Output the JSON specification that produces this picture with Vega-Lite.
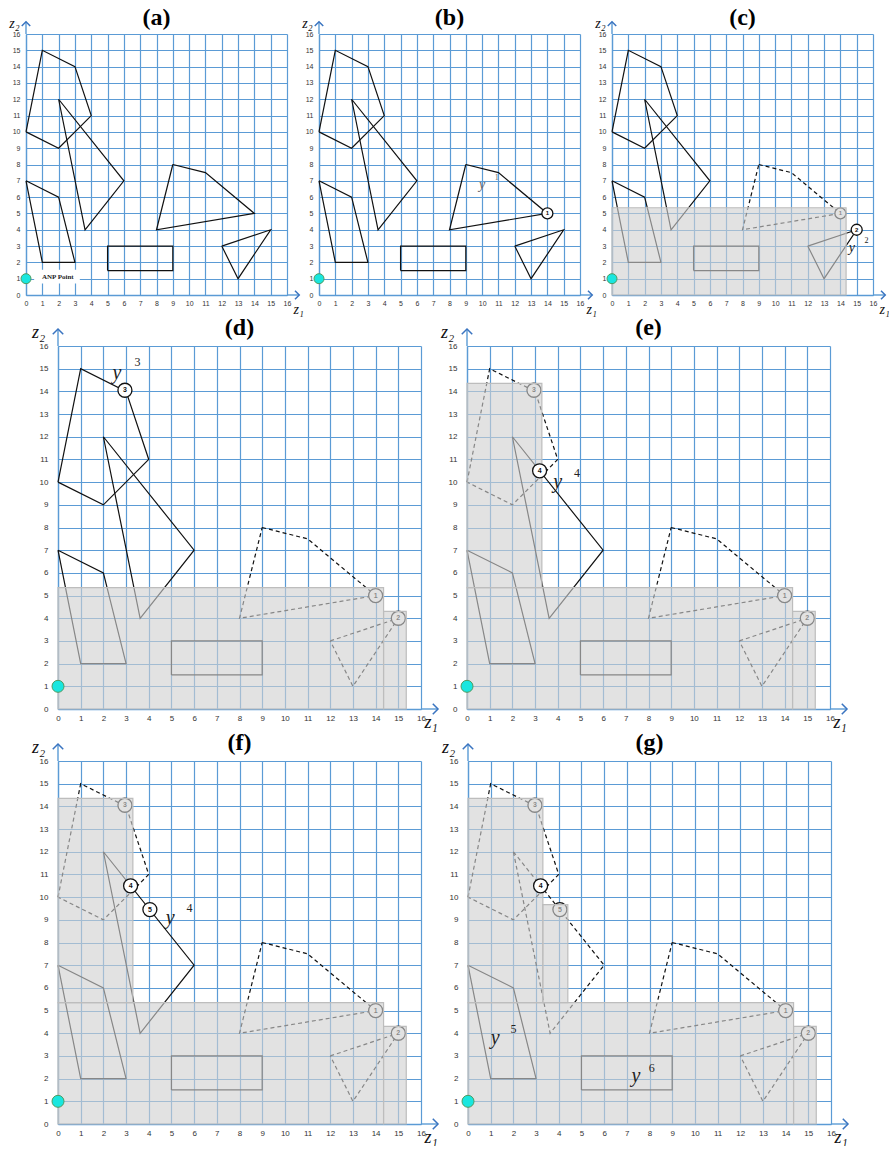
{
"$schema":"https://vega.github.io/schema/vega-lite/v6.json",
"autosize":{"type":"pad"},
"padding":{"left":8,"top":6,"right":0,"bottom":0},
"background":"white",
"spacing":0,
"config":{
 "view":{"stroke":null},
 "axis":{"grid":true,"gridColor":"#5b9bd5","gridWidth":1.2,"gridOpacity":1,"domainColor":"#5b9bd5","domainWidth":1.3,"ticks":false,"labelColor":"#333","labelFont":"Liberation Sans","labelFlush":false,"labelOverlap":false,"labelBound":false,"titleFont":"Liberation Serif","titleFontStyle":"italic","titleFontWeight":"normal","titleColor":"#111"},
 "title":{"font":"Liberation Serif","fontWeight":"bold","fontSize":24,"color":"#000"}
},
"datasets":{
 "polys":[
  {"poly":"P","i":0,"z1":0,"z2":10},{"poly":"P","i":1,"z1":1,"z2":15},{"poly":"P","i":2,"z1":3,"z2":14},{"poly":"P","i":3,"z1":4,"z2":11},{"poly":"P","i":4,"z1":2,"z2":9},{"poly":"P","i":5,"z1":0,"z2":10},
  {"poly":"T","i":0,"z1":2,"z2":12},{"poly":"T","i":1,"z1":6,"z2":7},{"poly":"T","i":2,"z1":3.62,"z2":4},{"poly":"T","i":3,"z1":2,"z2":12},
  {"poly":"Q","i":0,"z1":0,"z2":7},{"poly":"Q","i":1,"z1":2,"z2":6},{"poly":"Q","i":2,"z1":3,"z2":2},{"poly":"Q","i":3,"z1":1,"z2":2},{"poly":"Q","i":4,"z1":0,"z2":7},
  {"poly":"R","i":0,"z1":5,"z2":1.5},{"poly":"R","i":1,"z1":9,"z2":1.5},{"poly":"R","i":2,"z1":9,"z2":3},{"poly":"R","i":3,"z1":5,"z2":3},{"poly":"R","i":4,"z1":5,"z2":1.5},
  {"poly":"K","i":0,"z1":9,"z2":8},{"poly":"K","i":1,"z1":11,"z2":7.5},{"poly":"K","i":2,"z1":14,"z2":5},{"poly":"K","i":3,"z1":8,"z2":4},{"poly":"K","i":4,"z1":9,"z2":8},
  {"poly":"S","i":0,"z1":12,"z2":3},{"poly":"S","i":1,"z1":15,"z2":4},{"poly":"S","i":2,"z1":13,"z2":1},{"poly":"S","i":3,"z1":12,"z2":3}
 ],
 "pts":[{"id":"1","z1":14,"z2":5},{"id":"2","z1":15,"z2":4},{"id":"3","z1":2.95,"z2":14.05},{"id":"4","z1":3.2,"z2":10.5},{"id":"5","z1":4.05,"z2":9.45}],
 "shade":[
  {"piece":"A","z1":0,"z1b":14.35,"z2":0,"z2b":5.35},
  {"piece":"B","z1":14.35,"z1b":15.35,"z2":0,"z2b":4.3},
  {"piece":"C","z1":0,"z1b":3.3,"z2":5.35,"z2b":14.35},
  {"piece":"D","z1":3.3,"z1b":4.4,"z2":5.35,"z2b":9.67}
 ],
 "anp":[{"z1":0,"z2":1}],
 "labels":[
  {"panel":"b","kind":"v","txt":"y","z1":10.0,"z2":6.75},
  {"panel":"b","kind":"n","txt":"1","z1":10.9,"z2":7.2},
  {"panel":"c","kind":"v","txt":"y","z1":14.7,"z2":2.9},
  {"panel":"c","kind":"n","txt":"2","z1":15.6,"z2":3.3},
  {"panel":"d","kind":"v","txt":"y","z1":2.6,"z2":14.8},
  {"panel":"d","kind":"n","txt":"3","z1":3.5,"z2":15.3},
  {"panel":"e","kind":"v","txt":"y","z1":4.0,"z2":10.0},
  {"panel":"e","kind":"n","txt":"4","z1":4.85,"z2":10.4},
  {"panel":"f","kind":"v","txt":"y","z1":4.95,"z2":9.1},
  {"panel":"f","kind":"n","txt":"4","z1":5.8,"z2":9.5},
  {"panel":"g","kind":"v","txt":"y","z1":1.2,"z2":3.8},
  {"panel":"g","kind":"n","txt":"5","z1":2.0,"z2":4.2},
  {"panel":"g","kind":"v","txt":"y","z1":7.4,"z2":2.1},
  {"panel":"g","kind":"n","txt":"6","z1":8.1,"z2":2.45}
 ]
},
"vconcat":[
 {"hconcat":[
  {"width":261,"height":261,"title":{"text":"(a)","offset":-14},
   "encoding":{
    "x":{"field":"z1","type":"quantitative","scale":{"domain":[0,16]},"axis":{"values":[0,1,2,3,4,5,6,7,8,9,10,11,12,13,14,15,16],"labelFontSize":7,"labelPadding":4,"title":"z₁","titleFontSize":14,"titleX":267,"titleY":14,"titleAlign":"left","titleBaseline":"middle"}},
    "y":{"field":"z2","type":"quantitative","scale":{"domain":[0,16]},"axis":{"values":[0,1,2,3,4,5,6,7,8,9,10,11,12,13,14,15,16],"labelFontSize":7,"labelPadding":6,"title":"z₂","titleFontSize":14,"titleAngle":0,"titleX":-12,"titleY":-11,"titleAlign":"center","titleBaseline":"middle"}}},
   "layer":[
    {"data":{"name":"polys"},"mark":{"type":"line","color":"#111","strokeWidth":1.2},"encoding":{"detail":{"field":"poly"},"order":{"field":"i","type":"quantitative"}}},
    {"data":{"name":"anp"},"mark":{"type":"rect","fill":"white"},"encoding":{"x":{"datum":0.5},"x2":{"datum":3.3},"y":{"datum":0.7},"y2":{"datum":1.55}}},
    {"data":{"name":"anp"},"mark":{"type":"text","text":"ANP Point","font":"Liberation Serif","fontWeight":"bold","fontSize":7,"color":"#222"},"encoding":{"x":{"datum":1.95},"y":{"datum":1.1}}},
    {"data":{"name":"anp"},"mark":{"type":"circle","fill":"#19e6df","stroke":"#4f9a5f","strokeWidth":1,"size":100,"opacity":1}},
    {"data":{"name":"anp"},"mark":{"type":"rule","color":"#5b9bd5","strokeWidth":1.4},"encoding":{"x":{"datum":16},"x2":{"datum":16.75},"y":{"datum":0}}},
    {"data":{"name":"anp"},"mark":{"type":"rule","color":"#5b9bd5","strokeWidth":1.4},"encoding":{"x":{"datum":0},"y":{"datum":16},"y2":{"datum":16.75}}},
    {"data":{"name":"anp"},"mark":{"type":"point","shape":"M-1,-1L0,0L-1,1","filled":false,"color":"#3a74c0","strokeWidth":1.5,"size":72,"opacity":1},"encoding":{"x":{"datum":16.75},"y":{"datum":0}}},
    {"data":{"name":"anp"},"mark":{"type":"point","shape":"M-1,1L0,0L1,1","filled":false,"color":"#3a74c0","strokeWidth":1.5,"size":72,"opacity":1},"encoding":{"x":{"datum":0},"y":{"datum":16.75}}}
   ]},
  {"width":261,"height":261,"title":{"text":"(b)","offset":-14},
   "encoding":{
    "x":{"field":"z1","type":"quantitative","scale":{"domain":[0,16]},"axis":{"values":[0,1,2,3,4,5,6,7,8,9,10,11,12,13,14,15,16],"labelFontSize":7,"labelPadding":4,"title":"z₁","titleFontSize":14,"titleX":267,"titleY":14,"titleAlign":"left","titleBaseline":"middle"}},
    "y":{"field":"z2","type":"quantitative","scale":{"domain":[0,16]},"axis":{"values":[0,1,2,3,4,5,6,7,8,9,10,11,12,13,14,15,16],"labelFontSize":7,"labelPadding":6,"title":"z₂","titleFontSize":14,"titleAngle":0,"titleX":-12,"titleY":-11,"titleAlign":"center","titleBaseline":"middle"}}},
   "layer":[
    {"data":{"name":"polys"},"mark":{"type":"line","color":"#111","strokeWidth":1.2},"encoding":{"detail":{"field":"poly"},"order":{"field":"i","type":"quantitative"}}},
    {"data":{"name":"pts"},"transform":[{"filter":{"field":"id","oneOf":["1"]}}],"mark":{"type":"circle","fill":"white","stroke":"#111","strokeWidth":1.3,"size":121,"opacity":1}},
    {"data":{"name":"pts"},"transform":[{"filter":{"field":"id","oneOf":["1"]}}],"mark":{"type":"text","font":"Liberation Sans","fontWeight":"bold","fontSize":6,"color":"#111"},"encoding":{"text":{"field":"id"}}},
    {"data":{"name":"anp"},"mark":{"type":"circle","fill":"#19e6df","stroke":"#4f9a5f","strokeWidth":1,"size":100,"opacity":1}},
    {"data":{"name":"labels"},"transform":[{"filter":"datum.panel==='b' && datum.kind==='v'"}],"mark":{"type":"text","font":"Liberation Serif","fontStyle":"italic","fontSize":14,"color":"#666"},"encoding":{"text":{"field":"txt"}}},
    {"data":{"name":"labels"},"transform":[{"filter":"datum.panel==='b' && datum.kind==='n'"}],"mark":{"type":"text","font":"Liberation Serif","fontSize":8,"color":"#666"},"encoding":{"text":{"field":"txt"}}},
    {"data":{"name":"anp"},"mark":{"type":"rule","color":"#5b9bd5","strokeWidth":1.4},"encoding":{"x":{"datum":16},"x2":{"datum":16.75},"y":{"datum":0}}},
    {"data":{"name":"anp"},"mark":{"type":"rule","color":"#5b9bd5","strokeWidth":1.4},"encoding":{"x":{"datum":0},"y":{"datum":16},"y2":{"datum":16.75}}},
    {"data":{"name":"anp"},"mark":{"type":"point","shape":"M-1,-1L0,0L-1,1","filled":false,"color":"#3a74c0","strokeWidth":1.5,"size":72,"opacity":1},"encoding":{"x":{"datum":16.75},"y":{"datum":0}}},
    {"data":{"name":"anp"},"mark":{"type":"point","shape":"M-1,1L0,0L1,1","filled":false,"color":"#3a74c0","strokeWidth":1.5,"size":72,"opacity":1},"encoding":{"x":{"datum":0},"y":{"datum":16.75}}}
   ]},
  {"width":261,"height":261,"title":{"text":"(c)","offset":-14},
   "encoding":{
    "x":{"field":"z1","type":"quantitative","scale":{"domain":[0,16]},"axis":{"values":[0,1,2,3,4,5,6,7,8,9,10,11,12,13,14,15,16],"labelFontSize":7,"labelPadding":4,"title":"z₁","titleFontSize":14,"titleX":267,"titleY":14,"titleAlign":"left","titleBaseline":"middle"}},
    "y":{"field":"z2","type":"quantitative","scale":{"domain":[0,16]},"axis":{"values":[0,1,2,3,4,5,6,7,8,9,10,11,12,13,14,15,16],"labelFontSize":7,"labelPadding":6,"title":"z₂","titleFontSize":14,"titleAngle":0,"titleX":-12,"titleY":-11,"titleAlign":"center","titleBaseline":"middle"}}},
   "layer":[
    {"data":{"name":"polys"},"transform":[{"filter":{"field":"poly","oneOf":["P","T","Q","R","S"]}}],"mark":{"type":"line","color":"#111","strokeWidth":1.2},"encoding":{"detail":{"field":"poly"},"order":{"field":"i","type":"quantitative"}}},
    {"data":{"name":"polys"},"transform":[{"filter":{"field":"poly","oneOf":["K"]}}],"mark":{"type":"line","color":"#111","strokeWidth":1.2,"strokeDash":[4,3]},"encoding":{"detail":{"field":"poly"},"order":{"field":"i","type":"quantitative"}}},
    {"data":{"name":"pts"},"transform":[{"filter":{"field":"id","oneOf":["1"]}}],"mark":{"type":"circle","fill":"white","stroke":"#111","strokeWidth":1.3,"size":121,"opacity":1}},
    {"data":{"name":"pts"},"transform":[{"filter":{"field":"id","oneOf":["1"]}}],"mark":{"type":"text","font":"Liberation Sans","fontWeight":"bold","fontSize":6,"color":"#111"},"encoding":{"text":{"field":"id"}}},
    {"data":{"name":"shade"},"transform":[{"filter":{"field":"piece","oneOf":["A"]}}],"mark":{"type":"rect","fill":"#d0d0d0","fillOpacity":0.62,"stroke":"#bdbdbd","strokeWidth":1.2},"encoding":{"x2":{"field":"z1b"},"y2":{"field":"z2b"}}},
    {"data":{"name":"pts"},"transform":[{"filter":{"field":"id","oneOf":["2"]}}],"mark":{"type":"circle","fill":"white","stroke":"#111","strokeWidth":1.3,"size":121,"opacity":1}},
    {"data":{"name":"pts"},"transform":[{"filter":{"field":"id","oneOf":["2"]}}],"mark":{"type":"text","font":"Liberation Sans","fontWeight":"bold","fontSize":6,"color":"#111"},"encoding":{"text":{"field":"id"}}},
    {"data":{"name":"anp"},"mark":{"type":"circle","fill":"#19e6df","stroke":"#4f9a5f","strokeWidth":1,"size":100,"opacity":1}},
    {"data":{"name":"labels"},"transform":[{"filter":"datum.panel==='c' && datum.kind==='v'"}],"mark":{"type":"text","font":"Liberation Serif","fontStyle":"italic","fontSize":14,"color":"#222"},"encoding":{"text":{"field":"txt"}}},
    {"data":{"name":"labels"},"transform":[{"filter":"datum.panel==='c' && datum.kind==='n'"}],"mark":{"type":"text","font":"Liberation Serif","fontSize":8,"color":"#222"},"encoding":{"text":{"field":"txt"}}},
    {"data":{"name":"anp"},"mark":{"type":"rule","color":"#5b9bd5","strokeWidth":1.4},"encoding":{"x":{"datum":16},"x2":{"datum":16.75},"y":{"datum":0}}},
    {"data":{"name":"anp"},"mark":{"type":"rule","color":"#5b9bd5","strokeWidth":1.4},"encoding":{"x":{"datum":0},"y":{"datum":16},"y2":{"datum":16.75}}},
    {"data":{"name":"anp"},"mark":{"type":"point","shape":"M-1,-1L0,0L-1,1","filled":false,"color":"#3a74c0","strokeWidth":1.5,"size":72,"opacity":1},"encoding":{"x":{"datum":16.75},"y":{"datum":0}}},
    {"data":{"name":"anp"},"mark":{"type":"point","shape":"M-1,1L0,0L1,1","filled":false,"color":"#3a74c0","strokeWidth":1.5,"size":72,"opacity":1},"encoding":{"x":{"datum":0},"y":{"datum":16.75}}}
   ]}
 ],"spacing":32,"bounds":"flush"},
 {"hconcat":[
  {"width":32,"height":363,"data":{"values":[]},"mark":{"type":"text","text":""}},
  {"hconcat":[
   {"width":363,"height":363,"title":{"text":"(d)","offset":-17},
    "encoding":{
     "x":{"field":"z1","type":"quantitative","scale":{"domain":[0,16]},"axis":{"values":[0,1,2,3,4,5,6,7,8,9,10,11,12,13,14,15,16],"labelFontSize":8,"labelPadding":5,"title":"z₁","titleFontSize":18,"titleX":366,"titleY":13,"titleAlign":"left","titleBaseline":"middle"}},
     "y":{"field":"z2","type":"quantitative","scale":{"domain":[0,16]},"axis":{"values":[0,1,2,3,4,5,6,7,8,9,10,11,12,13,14,15,16],"labelFontSize":8,"labelPadding":10,"title":"z₂","titleFontSize":18,"titleAngle":0,"titleX":-20,"titleY":-14,"titleAlign":"center","titleBaseline":"middle"}}},
    "layer":[
     {"data":{"name":"polys"},"transform":[{"filter":{"field":"poly","oneOf":["P","T","Q","R"]}}],"mark":{"type":"line","color":"#111","strokeWidth":1.2},"encoding":{"detail":{"field":"poly"},"order":{"field":"i","type":"quantitative"}}},
     {"data":{"name":"polys"},"transform":[{"filter":{"field":"poly","oneOf":["K","S"]}}],"mark":{"type":"line","color":"#111","strokeWidth":1.2,"strokeDash":[4,3]},"encoding":{"detail":{"field":"poly"},"order":{"field":"i","type":"quantitative"}}},
     {"data":{"name":"pts"},"transform":[{"filter":{"field":"id","oneOf":["1","2"]}}],"mark":{"type":"circle","fill":"white","stroke":"#111","strokeWidth":1.3,"size":196,"opacity":1}},
     {"data":{"name":"pts"},"transform":[{"filter":{"field":"id","oneOf":["1","2"]}}],"mark":{"type":"text","font":"Liberation Sans","fontWeight":"bold","fontSize":7,"color":"#111"},"encoding":{"text":{"field":"id"}}},
     {"data":{"name":"shade"},"transform":[{"filter":{"field":"piece","oneOf":["A","B"]}}],"mark":{"type":"rect","fill":"#d0d0d0","fillOpacity":0.62,"stroke":"#bdbdbd","strokeWidth":1.2},"encoding":{"x2":{"field":"z1b"},"y2":{"field":"z2b"}}},
     {"data":{"name":"pts"},"transform":[{"filter":{"field":"id","oneOf":["3"]}}],"mark":{"type":"circle","fill":"white","stroke":"#111","strokeWidth":1.3,"size":196,"opacity":1}},
     {"data":{"name":"pts"},"transform":[{"filter":{"field":"id","oneOf":["3"]}}],"mark":{"type":"text","font":"Liberation Sans","fontWeight":"bold","fontSize":7,"color":"#111"},"encoding":{"text":{"field":"id"}}},
     {"data":{"name":"anp"},"mark":{"type":"circle","fill":"#19e6df","stroke":"#4f9a5f","strokeWidth":1,"size":144,"opacity":1}},
     {"data":{"name":"labels"},"transform":[{"filter":"datum.panel==='d' && datum.kind==='v'"}],"mark":{"type":"text","font":"Liberation Serif","fontStyle":"italic","fontSize":20,"color":"#222"},"encoding":{"text":{"field":"txt"}}},
     {"data":{"name":"labels"},"transform":[{"filter":"datum.panel==='d' && datum.kind==='n'"}],"mark":{"type":"text","font":"Liberation Serif","fontSize":12,"color":"#222"},"encoding":{"text":{"field":"txt"}}},
     {"data":{"name":"anp"},"mark":{"type":"rule","color":"#5b9bd5","strokeWidth":1.4},"encoding":{"x":{"datum":16},"x2":{"datum":16.75},"y":{"datum":0}}},
     {"data":{"name":"anp"},"mark":{"type":"rule","color":"#5b9bd5","strokeWidth":1.4},"encoding":{"x":{"datum":0},"y":{"datum":16},"y2":{"datum":16.75}}},
     {"data":{"name":"anp"},"mark":{"type":"point","shape":"M-1,-1L0,0L-1,1","filled":false,"color":"#3a74c0","strokeWidth":1.5,"size":110,"opacity":1},"encoding":{"x":{"datum":16.75},"y":{"datum":0}}},
     {"data":{"name":"anp"},"mark":{"type":"point","shape":"M-1,1L0,0L1,1","filled":false,"color":"#3a74c0","strokeWidth":1.5,"size":110,"opacity":1},"encoding":{"x":{"datum":0},"y":{"datum":16.75}}}
    ]},
   {"width":363,"height":363,"title":{"text":"(e)","offset":-17},
    "encoding":{
     "x":{"field":"z1","type":"quantitative","scale":{"domain":[0,16]},"axis":{"values":[0,1,2,3,4,5,6,7,8,9,10,11,12,13,14,15,16],"labelFontSize":8,"labelPadding":5,"title":"z₁","titleFontSize":18,"titleX":366,"titleY":13,"titleAlign":"left","titleBaseline":"middle"}},
     "y":{"field":"z2","type":"quantitative","scale":{"domain":[0,16]},"axis":{"values":[0,1,2,3,4,5,6,7,8,9,10,11,12,13,14,15,16],"labelFontSize":8,"labelPadding":10,"title":"z₂","titleFontSize":18,"titleAngle":0,"titleX":-20,"titleY":-14,"titleAlign":"center","titleBaseline":"middle"}}},
    "layer":[
     {"data":{"name":"polys"},"transform":[{"filter":{"field":"poly","oneOf":["T","Q","R"]}}],"mark":{"type":"line","color":"#111","strokeWidth":1.2},"encoding":{"detail":{"field":"poly"},"order":{"field":"i","type":"quantitative"}}},
     {"data":{"name":"polys"},"transform":[{"filter":{"field":"poly","oneOf":["P","K","S"]}}],"mark":{"type":"line","color":"#111","strokeWidth":1.2,"strokeDash":[4,3]},"encoding":{"detail":{"field":"poly"},"order":{"field":"i","type":"quantitative"}}},
     {"data":{"name":"pts"},"transform":[{"filter":{"field":"id","oneOf":["1","2","3"]}}],"mark":{"type":"circle","fill":"white","stroke":"#111","strokeWidth":1.3,"size":196,"opacity":1}},
     {"data":{"name":"pts"},"transform":[{"filter":{"field":"id","oneOf":["1","2","3"]}}],"mark":{"type":"text","font":"Liberation Sans","fontWeight":"bold","fontSize":7,"color":"#111"},"encoding":{"text":{"field":"id"}}},
     {"data":{"name":"shade"},"transform":[{"filter":{"field":"piece","oneOf":["A","B","C"]}}],"mark":{"type":"rect","fill":"#d0d0d0","fillOpacity":0.62,"stroke":"#bdbdbd","strokeWidth":1.2},"encoding":{"x2":{"field":"z1b"},"y2":{"field":"z2b"}}},
     {"data":{"name":"pts"},"transform":[{"filter":{"field":"id","oneOf":["4"]}}],"mark":{"type":"circle","fill":"white","stroke":"#111","strokeWidth":1.3,"size":196,"opacity":1}},
     {"data":{"name":"pts"},"transform":[{"filter":{"field":"id","oneOf":["4"]}}],"mark":{"type":"text","font":"Liberation Sans","fontWeight":"bold","fontSize":7,"color":"#111"},"encoding":{"text":{"field":"id"}}},
     {"data":{"name":"anp"},"mark":{"type":"circle","fill":"#19e6df","stroke":"#4f9a5f","strokeWidth":1,"size":144,"opacity":1}},
     {"data":{"name":"labels"},"transform":[{"filter":"datum.panel==='e' && datum.kind==='v'"}],"mark":{"type":"text","font":"Liberation Serif","fontStyle":"italic","fontSize":20,"color":"#222"},"encoding":{"text":{"field":"txt"}}},
     {"data":{"name":"labels"},"transform":[{"filter":"datum.panel==='e' && datum.kind==='n'"}],"mark":{"type":"text","font":"Liberation Serif","fontSize":12,"color":"#222"},"encoding":{"text":{"field":"txt"}}},
     {"data":{"name":"anp"},"mark":{"type":"rule","color":"#5b9bd5","strokeWidth":1.4},"encoding":{"x":{"datum":16},"x2":{"datum":16.75},"y":{"datum":0}}},
     {"data":{"name":"anp"},"mark":{"type":"rule","color":"#5b9bd5","strokeWidth":1.4},"encoding":{"x":{"datum":0},"y":{"datum":16},"y2":{"datum":16.75}}},
     {"data":{"name":"anp"},"mark":{"type":"point","shape":"M-1,-1L0,0L-1,1","filled":false,"color":"#3a74c0","strokeWidth":1.5,"size":110,"opacity":1},"encoding":{"x":{"datum":16.75},"y":{"datum":0}}},
     {"data":{"name":"anp"},"mark":{"type":"point","shape":"M-1,1L0,0L1,1","filled":false,"color":"#3a74c0","strokeWidth":1.5,"size":110,"opacity":1},"encoding":{"x":{"datum":0},"y":{"datum":16.75}}}
    ]}
  ],"spacing":46,"bounds":"flush"}
 ],"spacing":0,"bounds":"flush"},
 {"hconcat":[
  {"width":32,"height":363,"data":{"values":[]},"mark":{"type":"text","text":""}},
  {"hconcat":[
   {"width":363,"height":363,"title":{"text":"(f)","offset":-17},
    "encoding":{
     "x":{"field":"z1","type":"quantitative","scale":{"domain":[0,16]},"axis":{"values":[0,1,2,3,4,5,6,7,8,9,10,11,12,13,14,15,16],"labelFontSize":8,"labelPadding":5,"title":"z₁","titleFontSize":18,"titleX":366,"titleY":13,"titleAlign":"left","titleBaseline":"middle"}},
     "y":{"field":"z2","type":"quantitative","scale":{"domain":[0,16]},"axis":{"values":[0,1,2,3,4,5,6,7,8,9,10,11,12,13,14,15,16],"labelFontSize":8,"labelPadding":10,"title":"z₂","titleFontSize":18,"titleAngle":0,"titleX":-20,"titleY":-14,"titleAlign":"center","titleBaseline":"middle"}}},
    "layer":[
     {"data":{"name":"polys"},"transform":[{"filter":{"field":"poly","oneOf":["T","Q","R"]}}],"mark":{"type":"line","color":"#111","strokeWidth":1.2},"encoding":{"detail":{"field":"poly"},"order":{"field":"i","type":"quantitative"}}},
     {"data":{"name":"polys"},"transform":[{"filter":{"field":"poly","oneOf":["P","K","S"]}}],"mark":{"type":"line","color":"#111","strokeWidth":1.2,"strokeDash":[4,3]},"encoding":{"detail":{"field":"poly"},"order":{"field":"i","type":"quantitative"}}},
     {"data":{"name":"pts"},"transform":[{"filter":{"field":"id","oneOf":["1","2","3"]}}],"mark":{"type":"circle","fill":"white","stroke":"#111","strokeWidth":1.3,"size":196,"opacity":1}},
     {"data":{"name":"pts"},"transform":[{"filter":{"field":"id","oneOf":["1","2","3"]}}],"mark":{"type":"text","font":"Liberation Sans","fontWeight":"bold","fontSize":7,"color":"#111"},"encoding":{"text":{"field":"id"}}},
     {"data":{"name":"shade"},"transform":[{"filter":{"field":"piece","oneOf":["A","B","C"]}}],"mark":{"type":"rect","fill":"#d0d0d0","fillOpacity":0.62,"stroke":"#bdbdbd","strokeWidth":1.2},"encoding":{"x2":{"field":"z1b"},"y2":{"field":"z2b"}}},
     {"data":{"name":"pts"},"transform":[{"filter":{"field":"id","oneOf":["4","5"]}}],"mark":{"type":"circle","fill":"white","stroke":"#111","strokeWidth":1.3,"size":196,"opacity":1}},
     {"data":{"name":"pts"},"transform":[{"filter":{"field":"id","oneOf":["4","5"]}}],"mark":{"type":"text","font":"Liberation Sans","fontWeight":"bold","fontSize":7,"color":"#111"},"encoding":{"text":{"field":"id"}}},
     {"data":{"name":"anp"},"mark":{"type":"circle","fill":"#19e6df","stroke":"#4f9a5f","strokeWidth":1,"size":144,"opacity":1}},
     {"data":{"name":"labels"},"transform":[{"filter":"datum.panel==='f' && datum.kind==='v'"}],"mark":{"type":"text","font":"Liberation Serif","fontStyle":"italic","fontSize":20,"color":"#222"},"encoding":{"text":{"field":"txt"}}},
     {"data":{"name":"labels"},"transform":[{"filter":"datum.panel==='f' && datum.kind==='n'"}],"mark":{"type":"text","font":"Liberation Serif","fontSize":12,"color":"#222"},"encoding":{"text":{"field":"txt"}}},
     {"data":{"name":"anp"},"mark":{"type":"rule","color":"#5b9bd5","strokeWidth":1.4},"encoding":{"x":{"datum":16},"x2":{"datum":16.75},"y":{"datum":0}}},
     {"data":{"name":"anp"},"mark":{"type":"rule","color":"#5b9bd5","strokeWidth":1.4},"encoding":{"x":{"datum":0},"y":{"datum":16},"y2":{"datum":16.75}}},
     {"data":{"name":"anp"},"mark":{"type":"point","shape":"M-1,-1L0,0L-1,1","filled":false,"color":"#3a74c0","strokeWidth":1.5,"size":110,"opacity":1},"encoding":{"x":{"datum":16.75},"y":{"datum":0}}},
     {"data":{"name":"anp"},"mark":{"type":"point","shape":"M-1,1L0,0L1,1","filled":false,"color":"#3a74c0","strokeWidth":1.5,"size":110,"opacity":1},"encoding":{"x":{"datum":0},"y":{"datum":16.75}}}
    ]},
   {"width":363,"height":363,"title":{"text":"(g)","offset":-17},
    "encoding":{
     "x":{"field":"z1","type":"quantitative","scale":{"domain":[0,16]},"axis":{"values":[0,1,2,3,4,5,6,7,8,9,10,11,12,13,14,15,16],"labelFontSize":8,"labelPadding":5,"title":"z₁","titleFontSize":18,"titleX":366,"titleY":13,"titleAlign":"left","titleBaseline":"middle"}},
     "y":{"field":"z2","type":"quantitative","scale":{"domain":[0,16]},"axis":{"values":[0,1,2,3,4,5,6,7,8,9,10,11,12,13,14,15,16],"labelFontSize":8,"labelPadding":10,"title":"z₂","titleFontSize":18,"titleAngle":0,"titleX":-20,"titleY":-14,"titleAlign":"center","titleBaseline":"middle"}}},
    "layer":[
     {"data":{"name":"polys"},"transform":[{"filter":{"field":"poly","oneOf":["Q","R"]}}],"mark":{"type":"line","color":"#111","strokeWidth":1.2},"encoding":{"detail":{"field":"poly"},"order":{"field":"i","type":"quantitative"}}},
     {"data":{"name":"polys"},"transform":[{"filter":{"field":"poly","oneOf":["P","T","K","S"]}}],"mark":{"type":"line","color":"#111","strokeWidth":1.2,"strokeDash":[4,3]},"encoding":{"detail":{"field":"poly"},"order":{"field":"i","type":"quantitative"}}},
     {"data":{"name":"pts"},"transform":[{"filter":{"field":"id","oneOf":["1","2","3","5"]}}],"mark":{"type":"circle","fill":"white","stroke":"#111","strokeWidth":1.3,"size":196,"opacity":1}},
     {"data":{"name":"pts"},"transform":[{"filter":{"field":"id","oneOf":["1","2","3","5"]}}],"mark":{"type":"text","font":"Liberation Sans","fontWeight":"bold","fontSize":7,"color":"#111"},"encoding":{"text":{"field":"id"}}},
     {"data":{"name":"shade"},"transform":[{"filter":{"field":"piece","oneOf":["A","B","C","D"]}}],"mark":{"type":"rect","fill":"#d0d0d0","fillOpacity":0.62,"stroke":"#bdbdbd","strokeWidth":1.2},"encoding":{"x2":{"field":"z1b"},"y2":{"field":"z2b"}}},
     {"data":{"name":"pts"},"transform":[{"filter":{"field":"id","oneOf":["4"]}}],"mark":{"type":"circle","fill":"white","stroke":"#111","strokeWidth":1.3,"size":196,"opacity":1}},
     {"data":{"name":"pts"},"transform":[{"filter":{"field":"id","oneOf":["4"]}}],"mark":{"type":"text","font":"Liberation Sans","fontWeight":"bold","fontSize":7,"color":"#111"},"encoding":{"text":{"field":"id"}}},
     {"data":{"name":"anp"},"mark":{"type":"circle","fill":"#19e6df","stroke":"#4f9a5f","strokeWidth":1,"size":144,"opacity":1}},
     {"data":{"name":"labels"},"transform":[{"filter":"datum.panel==='g' && datum.kind==='v'"}],"mark":{"type":"text","font":"Liberation Serif","fontStyle":"italic","fontSize":20,"color":"#222"},"encoding":{"text":{"field":"txt"}}},
     {"data":{"name":"labels"},"transform":[{"filter":"datum.panel==='g' && datum.kind==='n'"}],"mark":{"type":"text","font":"Liberation Serif","fontSize":12,"color":"#222"},"encoding":{"text":{"field":"txt"}}},
     {"data":{"name":"anp"},"mark":{"type":"rule","color":"#5b9bd5","strokeWidth":1.4},"encoding":{"x":{"datum":16},"x2":{"datum":16.75},"y":{"datum":0}}},
     {"data":{"name":"anp"},"mark":{"type":"rule","color":"#5b9bd5","strokeWidth":1.4},"encoding":{"x":{"datum":0},"y":{"datum":16},"y2":{"datum":16.75}}},
     {"data":{"name":"anp"},"mark":{"type":"point","shape":"M-1,-1L0,0L-1,1","filled":false,"color":"#3a74c0","strokeWidth":1.5,"size":110,"opacity":1},"encoding":{"x":{"datum":16.75},"y":{"datum":0}}},
     {"data":{"name":"anp"},"mark":{"type":"point","shape":"M-1,1L0,0L1,1","filled":false,"color":"#3a74c0","strokeWidth":1.5,"size":110,"opacity":1},"encoding":{"x":{"datum":0},"y":{"datum":16.75}}}
    ]}
  ],"spacing":47,"bounds":"flush"}
 ],"spacing":0,"bounds":"flush"}
]
}
